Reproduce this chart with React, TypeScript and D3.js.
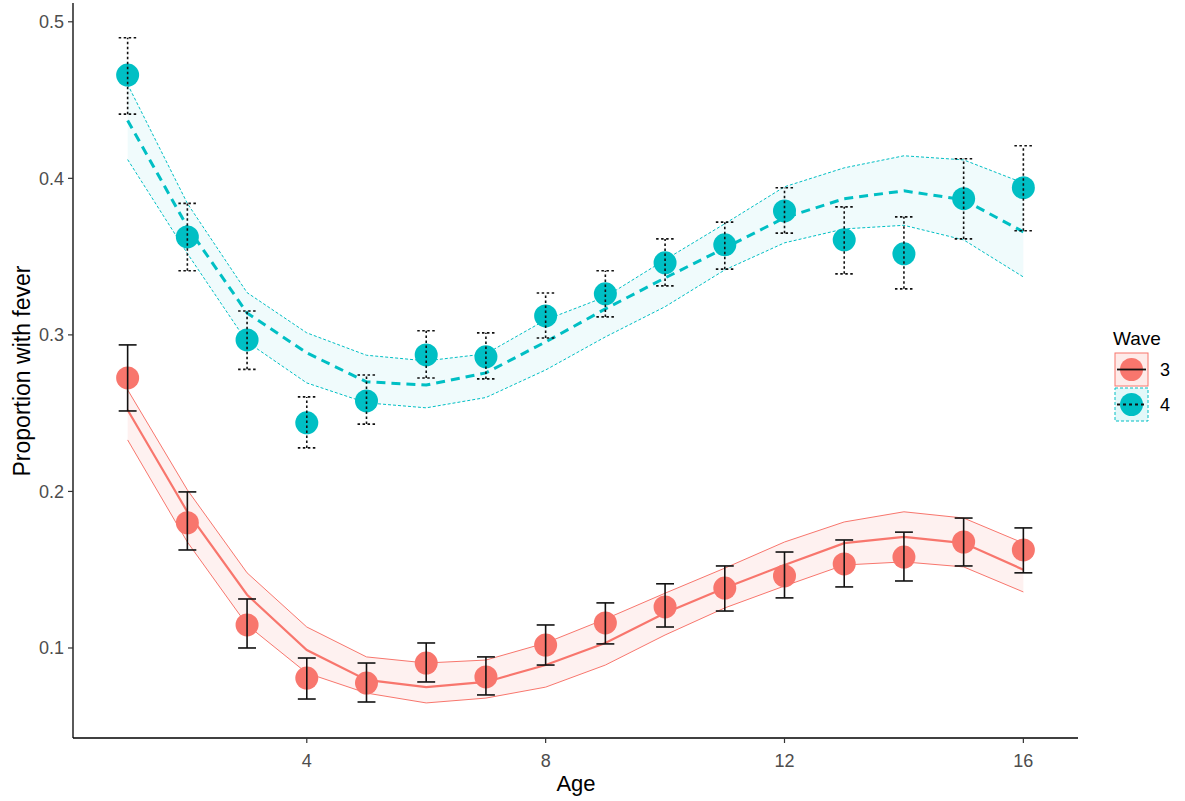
import React from "react";
import * as d3 from "d3";

const ages = [1, 2, 3, 4, 5, 6, 7, 8, 9, 10, 11, 12, 13, 14, 15, 16];

// wave 3 observed proportions and error bars
const wave3Prop = [0.2725, 0.18, 0.1147, 0.0808, 0.0776, 0.0904, 0.0815, 0.1019, 0.116, 0.1262, 0.1383, 0.146, 0.1537, 0.1581, 0.1677, 0.1626];
const wave3Lo = [0.2514, 0.1626, 0.1, 0.0674, 0.0655, 0.0783, 0.07, 0.0891, 0.1026, 0.1134, 0.1236, 0.132, 0.139, 0.1428, 0.1524, 0.148];
const wave3Hi = [0.2936, 0.1997, 0.1313, 0.0936, 0.0904, 0.1032, 0.0943, 0.1147, 0.1288, 0.141, 0.1524, 0.1613, 0.169, 0.174, 0.183, 0.1767];
// wave 3 fitted curve with its band
const wave3Fit = [0.252, 0.187, 0.134, 0.0987, 0.0796, 0.075, 0.0783, 0.0891, 0.1032, 0.1224, 0.1383, 0.153, 0.167, 0.171, 0.167, 0.15];
const wave3FitLo = [0.2329, 0.1677, 0.1147, 0.084, 0.0712, 0.0649, 0.068, 0.075, 0.0891, 0.1083, 0.1256, 0.1396, 0.153, 0.155, 0.1518, 0.1358];
const wave3FitHi = [0.2649, 0.201, 0.148, 0.1134, 0.0943, 0.0904, 0.0923, 0.1032, 0.1185, 0.135, 0.151, 0.1677, 0.1805, 0.187, 0.183, 0.167];

// wave 4
const wave4Prop = [0.466, 0.3626, 0.2968, 0.2438, 0.2578, 0.2872, 0.286, 0.3121, 0.3262, 0.346, 0.3575, 0.3792, 0.3607, 0.3518, 0.387, 0.394];
const wave4Lo = [0.441, 0.341, 0.278, 0.2278, 0.243, 0.2725, 0.2719, 0.298, 0.3115, 0.3313, 0.342, 0.365, 0.339, 0.3294, 0.3613, 0.3665];
const wave4Hi = [0.4898, 0.384, 0.3153, 0.2604, 0.2744, 0.3026, 0.3013, 0.3268, 0.341, 0.3613, 0.372, 0.394, 0.3818, 0.3754, 0.4125, 0.4208];
const wave4Fit = [0.437, 0.369, 0.314, 0.2885, 0.27, 0.268, 0.2757, 0.2955, 0.3166, 0.3364, 0.3555, 0.3748, 0.387, 0.392, 0.3863, 0.3658];
const wave4FitLo = [0.412, 0.352, 0.2955, 0.2693, 0.2566, 0.2534, 0.26, 0.2776, 0.2987, 0.318, 0.3415, 0.3588, 0.3677, 0.37, 0.3607, 0.337];
const wave4FitHi = [0.46, 0.384, 0.327, 0.3013, 0.287, 0.2834, 0.2879, 0.3096, 0.3243, 0.348, 0.371, 0.3946, 0.4067, 0.4144, 0.4118, 0.397];

const xTicks = [4, 8, 12, 16];
const yTicks = [0.1, 0.2, 0.3, 0.4, 0.5];
const waveLabels = ["3", "4"];

const RED = "#F8766D";
const CYAN = "#00BFC4";
const FONT = "'Liberation Sans', Arial, sans-serif";

export default function App() {
  const width = 1185;
  const height = 801;
  const left = 73;
  const right = 1078;
  const top = 3;
  const bottom = 738;

  const x = d3.scaleLinear().domain([0.085, 16.915]).range([left, right]);
  const y = d3.scaleLinear().domain([0.0425, 0.512]).range([bottom, top]);

  const line = (vals: number[]) =>
    d3.line<number>().x((_, i) => x(ages[i])).y((v) => y(v))(vals) || "";
  const band = (lo: number[], hi: number[]) =>
    d3
      .area<number>()
      .x((_, i) => x(ages[i]))
      .y0((_, i) => y(lo[i]))
      .y1((_, i) => y(hi[i]))(ages) || "";

  const series = [
    { color: RED, prop: wave3Prop, lo: wave3Lo, hi: wave3Hi, fit: wave3Fit, fLo: wave3FitLo, fHi: wave3FitHi, dashed: false, fillOp: 0.1 },
    { color: CYAN, prop: wave4Prop, lo: wave4Lo, hi: wave4Hi, fit: wave4Fit, fLo: wave4FitLo, fHi: wave4FitHi, dashed: true, fillOp: 0.06 },
  ];

  const capHalf = x(0.15) - x(0);

  return (
    <svg
      width={width}
      height={height}
      style={{ position: "absolute", left: 0, top: 0, background: "#fff" }}
      fontFamily={FONT}
    >
      {series.map((s, k) => (
        <g key={k}>
          <path d={band(s.fLo, s.fHi)} fill={s.color} fillOpacity={s.fillOp} stroke="none" />
          <path d={line(s.fLo)} fill="none" stroke={s.color} strokeWidth={1} strokeDasharray={s.dashed ? "3,2" : undefined} />
          <path d={line(s.fHi)} fill="none" stroke={s.color} strokeWidth={1} strokeDasharray={s.dashed ? "3,2" : undefined} />
          <path d={line(s.fit)} fill="none" stroke={s.color} strokeWidth={s.dashed ? 3 : 2.2} strokeDasharray={s.dashed ? "9,6" : undefined} />
        </g>
      ))}
      {series.map((s, k) => (
        <g key={"p" + k}>
          {s.prop.map((v, i) => (
            <circle key={i} cx={x(ages[i])} cy={y(v)} r={11.5} fill={s.color} />
          ))}
          {s.prop.map((_, i) => {
            const cx = x(ages[i]);
            const dash = s.dashed ? "2.5,2.5" : undefined;
            return (
              <g key={"e" + i} stroke="#111" strokeWidth={1.6} strokeDasharray={dash}>
                <line x1={cx} x2={cx} y1={y(s.lo[i])} y2={y(s.hi[i])} />
                <line x1={cx - capHalf} x2={cx + capHalf} y1={y(s.lo[i])} y2={y(s.lo[i])} />
                <line x1={cx - capHalf} x2={cx + capHalf} y1={y(s.hi[i])} y2={y(s.hi[i])} />
              </g>
            );
          })}
        </g>
      ))}

      {/* axes */}
      <line x1={left} x2={left} y1={top} y2={bottom} stroke="#000" strokeWidth={1.3} />
      <line x1={left} x2={right} y1={bottom} y2={bottom} stroke="#000" strokeWidth={1.3} />
      {yTicks.map((t) => (
        <g key={t}>
          <line x1={left - 5} x2={left} y1={y(t)} y2={y(t)} stroke="#333" strokeWidth={1.2} />
          <text x={left - 9} y={y(t)} dy="0.35em" textAnchor="end" fontSize={18} fill="#4d4d4d">
            {t.toFixed(1)}
          </text>
        </g>
      ))}
      {xTicks.map((t) => (
        <g key={t}>
          <line x1={x(t)} x2={x(t)} y1={bottom} y2={bottom + 5} stroke="#333" strokeWidth={1.2} />
          <text x={x(t)} y={767} textAnchor="middle" fontSize={18} fill="#4d4d4d">
            {t}
          </text>
        </g>
      ))}
      <text x={576} y={791} textAnchor="middle" fontSize={22} fill="#000">
        Age
      </text>
      <text
        transform={`translate(30,371) rotate(-90)`}
        textAnchor="middle"
        fontSize={23}
        fill="#000"
      >
        Proportion with fever
      </text>

      {/* legend */}
      <text x={1113} y={345} fontSize={19} fill="#000">
        Wave
      </text>
      {series.map((s, k) => {
        const ky = 353 + k * 35;
        return (
          <g key={"l" + k}>
            <rect
              x={1115}
              y={ky}
              width={33}
              height={33}
              fill={s.color}
              fillOpacity={s.fillOp + 0.05}
              stroke={s.color}
              strokeWidth={1}
              strokeDasharray={s.dashed ? "3,2" : undefined}
            />
            <circle cx={1131.5} cy={ky + 16.5} r={11.5} fill={s.color} />
            <line
              x1={1117}
              x2={1146}
              y1={ky + 16.5}
              y2={ky + 16.5}
              stroke="#111"
              strokeWidth={1.8}
              strokeDasharray={s.dashed ? "3,3" : undefined}
            />
            <text x={1160} y={ky + 16.5} dy="0.35em" fontSize={18} fill="#000">
              {waveLabels[k]}
            </text>
          </g>
        );
      })}
    </svg>
  );
}
